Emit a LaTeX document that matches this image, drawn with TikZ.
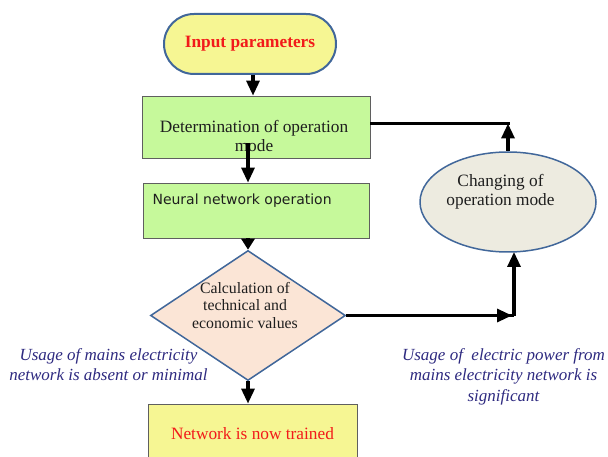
\documentclass[tikz,border=0pt]{standalone}
\usepackage{fontspec}
\setmainfont{Liberation Serif}
\newfontfamily\dvsans{DejaVu Sans}
\usetikzlibrary{shapes.geometric,arrows.meta}
\definecolor{yfill}{HTML}{F6F693}
\definecolor{gfill}{HTML}{C6F99B}
\definecolor{dfill}{HTML}{FBE5D6}
\definecolor{efill}{HTML}{EDEBE0}
\definecolor{bborder}{HTML}{41679A}
\definecolor{gborder}{HTML}{5F5F5F}
\definecolor{redtxt}{HTML}{F21A1A}
\definecolor{labtxt}{HTML}{2E2A80}
\definecolor{dtxt}{HTML}{1E1E1E}
\begin{document}
\begin{tikzpicture}[x=1pt,y=-1pt,
  arr/.style={line width=3.2pt,-{Triangle[length=15pt,width=13pt]}},
  conn/.style={line width=3.2pt},
  boxg/.style={draw=gborder,line width=0.8pt,fill=gfill,rectangle,inner sep=0pt},
  boxy/.style={draw=gborder,line width=0.8pt,fill=yfill,rectangle,inner sep=0pt},
  serif17/.style={font=\fontsize{17.3}{18.5}\selectfont,text=dtxt,align=center},
  labl/.style={font=\fontsize{17}{20.5}\selectfont\itshape,text=labtxt,align=center}]
\useasboundingbox (0,0) rectangle (608,457);
\clip (0,0) rectangle (608,457);

% Input parameters
\node[draw=bborder,line width=2pt,fill=yfill,rectangle,rounded corners=30pt,
  minimum width=172pt,minimum height=60pt,inner sep=0pt,
  font=\fontsize{17.3}{18}\selectfont\bfseries,text=redtxt] (inp) at (250,44) {Input parameters};

% Determination
\node[boxg,minimum width=228pt,minimum height=62pt] (det) at (256,127) {};
\node[serif17] (dett) at (254,136) {Determination of operation\\mode};

% Neural network operation
\node[boxg,minimum width=226pt,minimum height=55pt] (nn) at (256,210.5) {};
\node[anchor=west,font=\dvsans\fontsize{14}{16}\selectfont,text=dtxt] (nnt) at (149,201) {Neural network operation};

% Diamond
\node[draw=bborder,line width=1.5pt,fill=dfill,diamond,minimum width=195pt,minimum height=130pt,inner sep=0pt] (dia) at (248,315.5) {};
\node[font=\fontsize{15.8}{17.5}\selectfont,text=dtxt,align=center] (diat) at (245,305.5) {Calculation of\\technical and\\economic values};

% Network trained
\node[boxy,minimum width=209pt,minimum height=60pt] (tr) at (252.5,434) {};
\node[font=\fontsize{17.3}{18}\selectfont,text=redtxt] (trt) at (252.5,434) {Network is now trained};

% Ellipse
\node[draw=bborder,line width=1.5pt,fill=efill,ellipse,minimum width=176pt,minimum height=100pt,inner sep=0pt] (ell) at (508,202) {};
\node[serif17] (ellt) at (500.5,192) {Changing of\\operation mode};

% Labels
\node[labl] (lab1) at (108.5,364.5) {Usage of mains electricity\\network is absent or minimal};
\node[labl] (lab2) at (503.5,376.5) {Usage of\ \ electric power from\\mains electricity network is\\significant};

% Connectors
\draw[arr] ([xshift=3pt]inp.south) -- ([xshift=3pt]inp.south |- det.north);
\draw[arr] ([xshift=-8pt,yshift=-16pt]det.center) -- ([xshift=-8pt]nn.north);
\draw[arr,-{Triangle[length=11pt,width=13pt]}] ([xshift=-8pt]nn.south) -- (dia.north);
\draw[arr] (dia.south) -- (dia.south |- tr.north);

\coordinate (c1) at (514,315.5);
\draw[arr] (dia.east) -- ([xshift=-2pt]c1);
\draw[conn] (dia.east) -- (c1);
\draw[arr] (c1) -- (514,252);

\coordinate (c2) at (508,123.5);
\draw[arr] (ell.north) -- (c2);
\draw[conn] ([xshift=1.6pt]c2) -- (det.east |- c2);
\end{tikzpicture}
\end{document}
